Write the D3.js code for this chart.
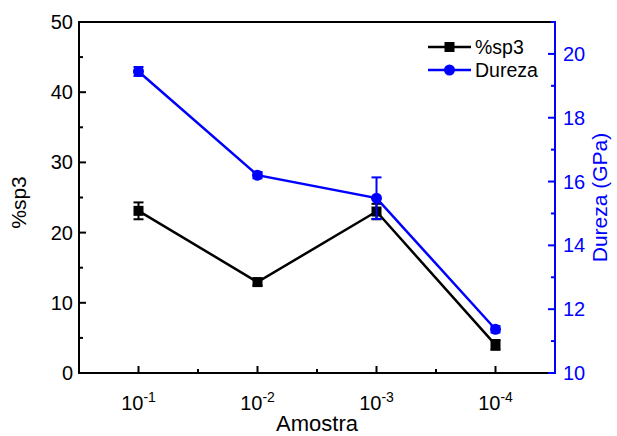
<!DOCTYPE html>
<html>
<head>
<meta charset="utf-8">
<script src="https://cdn.jsdelivr.net/npm/d3@7"></script>
<style>
  html, body { margin: 0; padding: 0; background: #fff; }
  svg { display: block; font-family: "Liberation Sans", Arial, sans-serif; }
</style>
</head>
<body>
<svg id="chart" width="617" height="436"></svg>
<script>
// Samples (dilution) and measured values
const samples = ["-1", "-2", "-3", "-4"];
const sp3 = [23.1, 12.95, 23.0, 4.0];
const sp3Err = [1.2, 0.5, 1.1, 0.7];
const dureza = [19.45, 16.2, 15.48, 11.37];
const durezaErr = [0.14, 0.1, 0.65, 0.1];
const leftTicks = [0, 10, 20, 30, 40, 50];
const rightTicks = [10, 12, 14, 16, 18, 20];

const svg = d3.select("#chart");
const m = { left: 79, right: 555, top: 22, bottom: 373 };
const blue = "#0000ff";
const tickFont = 20, titleFont = 21;

const x = d3.scaleLinear().domain([0.5, 4.5]).range([m.left, m.right]);
const yL = d3.scaleLinear().domain([0, 50]).range([m.bottom, m.top]);
const yR = d3.scaleLinear().domain([10, 21]).range([m.bottom, m.top]);

// Top border
svg.append("line").attr("x1", m.left).attr("x2", m.right).attr("y1", m.top).attr("y2", m.top)
  .attr("stroke", "#000").attr("stroke-width", 2);

// Bottom axis
svg.append("line").attr("x1", m.left).attr("x2", m.right).attr("y1", m.bottom).attr("y2", m.bottom)
  .attr("stroke", "#000").attr("stroke-width", 2);
[1, 2, 3, 4].forEach(v => {
  svg.append("line").attr("x1", x(v)).attr("x2", x(v)).attr("y1", m.bottom).attr("y2", m.bottom - 7)
    .attr("stroke", "#000").attr("stroke-width", 2);
});
[1.5, 2.5, 3.5].forEach(v => {
  svg.append("line").attr("x1", x(v)).attr("x2", x(v)).attr("y1", m.bottom).attr("y2", m.bottom - 4)
    .attr("stroke", "#000").attr("stroke-width", 2);
});
samples.forEach((s, i) => {
  const t = svg.append("text").attr("x", x(i + 1)).attr("y", 410).attr("text-anchor", "middle")
    .attr("font-size", tickFont).attr("fill", "#000");
  t.append("tspan").text("10");
  t.append("tspan").attr("dy", -8).attr("font-size", 14).text(s);
});
svg.append("text").attr("x", x(2.5)).attr("y", 431).attr("text-anchor", "middle")
  .attr("font-size", 22).text("Amostra");

// Left axis
svg.append("line").attr("x1", m.left).attr("x2", m.left).attr("y1", m.top - 1).attr("y2", m.bottom + 1)
  .attr("stroke", "#000").attr("stroke-width", 2);
leftTicks.forEach(v => {
  svg.append("line").attr("x1", m.left).attr("x2", m.left + 7).attr("y1", yL(v)).attr("y2", yL(v))
    .attr("stroke", "#000").attr("stroke-width", 2);
  svg.append("text").attr("x", m.left - 6).attr("y", yL(v) + 7).attr("text-anchor", "end")
    .attr("font-size", tickFont).text(v);
});
[5, 15, 25, 35, 45].forEach(v => {
  svg.append("line").attr("x1", m.left).attr("x2", m.left + 4).attr("y1", yL(v)).attr("y2", yL(v))
    .attr("stroke", "#000").attr("stroke-width", 2);
});
svg.append("text").attr("transform", `translate(26,${(m.top + m.bottom) / 2 + 5}) rotate(-90)`)
  .attr("text-anchor", "middle").attr("font-size", titleFont).text("%sp3");

// Right axis
svg.append("line").attr("x1", m.right).attr("x2", m.right).attr("y1", m.top - 1).attr("y2", m.bottom + 1)
  .attr("stroke", blue).attr("stroke-width", 2);
rightTicks.forEach(v => {
  svg.append("line").attr("x1", m.right).attr("x2", m.right - 7).attr("y1", yR(v)).attr("y2", yR(v))
    .attr("stroke", blue).attr("stroke-width", 2);
  svg.append("text").attr("x", m.right + 8).attr("y", yR(v) + 7).attr("text-anchor", "start")
    .attr("font-size", tickFont).attr("fill", blue).text(v);
});
[11, 13, 15, 17, 19, 21].forEach(v => {
  svg.append("line").attr("x1", m.right).attr("x2", m.right - 4).attr("y1", yR(v)).attr("y2", yR(v))
    .attr("stroke", blue).attr("stroke-width", 2);
});
svg.append("text").attr("transform", `translate(607,${(m.top + m.bottom) / 2}) rotate(-90)`)
  .attr("text-anchor", "middle").attr("font-size", titleFont).attr("fill", blue).text("Dureza (GPa)");

// Series drawing helper
function drawSeries(vals, errs, y, color, shape) {
  const line = d3.line().x((d, i) => x(i + 1)).y(d => y(d));
  svg.append("path").datum(vals).attr("d", line).attr("fill", "none")
    .attr("stroke", color).attr("stroke-width", 2.5);
  vals.forEach((v, i) => {
    const cx = x(i + 1);
    const e = errs[i];
    svg.append("line").attr("x1", cx).attr("x2", cx).attr("y1", y(v - e)).attr("y2", y(v + e))
      .attr("stroke", color).attr("stroke-width", 2);
    [v - e, v + e].forEach(w => {
      svg.append("line").attr("x1", cx - 5).attr("x2", cx + 5).attr("y1", y(w)).attr("y2", y(w))
        .attr("stroke", color).attr("stroke-width", 2);
    });
    if (shape === "square") {
      svg.append("rect").attr("x", cx - 5).attr("y", y(v) - 5).attr("width", 10).attr("height", 10)
        .attr("fill", color);
    } else {
      svg.append("circle").attr("cx", cx).attr("cy", y(v)).attr("r", 5.5).attr("fill", color);
    }
  });
}
drawSeries(sp3, sp3Err, yL, "#000", "square");
drawSeries(dureza, durezaErr, yR, blue, "circle");

// Legend
const legend = [
  { label: "%sp3", color: "#000", shape: "square", y: 47 },
  { label: "Dureza", color: blue, shape: "circle", y: 70 }
];
legend.forEach(d => {
  svg.append("line").attr("x1", 428).attr("x2", 471).attr("y1", d.y).attr("y2", d.y)
    .attr("stroke", d.color).attr("stroke-width", 2.5);
  if (d.shape === "square") {
    svg.append("rect").attr("x", 444.5).attr("y", d.y - 5).attr("width", 10).attr("height", 10).attr("fill", d.color);
  } else {
    svg.append("circle").attr("cx", 449.5).attr("cy", d.y).attr("r", 5.5).attr("fill", d.color);
  }
  svg.append("text").attr("x", 475).attr("y", d.y + 7).attr("font-size", 19.5).attr("fill", "#000").text(d.label);
});
</script>
</body>
</html>
